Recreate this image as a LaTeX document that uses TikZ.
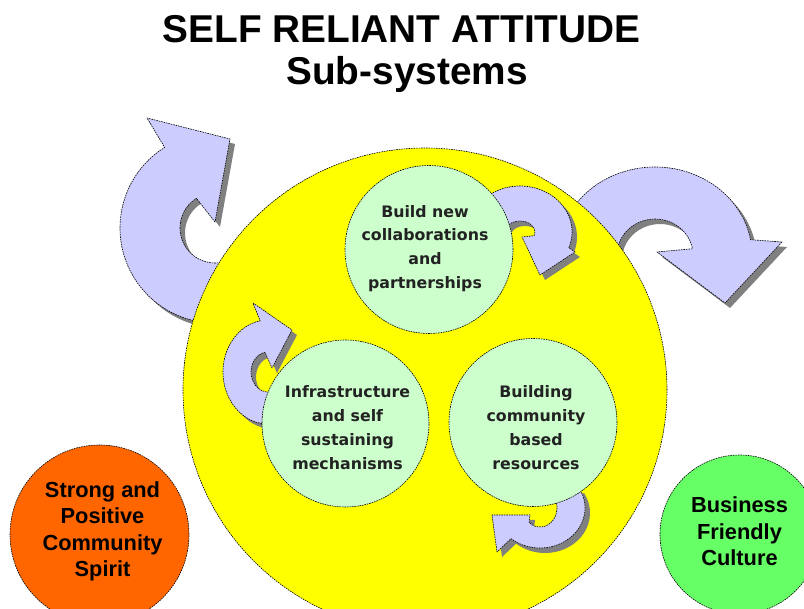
\documentclass[tikz,border=0pt]{standalone}
\usepackage{fontspec}
\newfontfamily\arialfont{Liberation Sans}
\newfontfamily\verdfont{DejaVu Sans}
\definecolor{yel}{HTML}{FFFF00}
\definecolor{mint}{HTML}{CCFFCC}
\definecolor{lav}{HTML}{CCCCFF}
\definecolor{shadec}{HTML}{808080}
\definecolor{orng}{HTML}{FF6600}
\definecolor{lgreen}{HTML}{66FF66}
\definecolor{txtdark}{HTML}{222222}
\tikzset{
  outl/.style={draw=black, line width=0.6pt, dash pattern=on 1.6pt off 0.9pt, line join=round},
  arrowbody/.style={outl, fill=lav},
  arrowshadow/.style={fill=shadec},
  bigdisc/.style={circle, outl, fill=yel, inner sep=0pt, minimum size=484pt},
  subdisc/.style={circle, outl, fill=mint, inner sep=0pt, minimum size=168pt},
  subtext/.style={align=center, text=txtdark, inner sep=0pt, font=\verdfont\bfseries\fontsize{15.8}{23.7}\selectfont},
  outtext/.style={align=center, text=black, inner sep=0pt, font=\arialfont\bfseries\fontsize{21.8}{26.5}\selectfont},
  titletext/.style={inner sep=0pt, anchor=base, font=\arialfont\bfseries\fontsize{38.8}{40}\selectfont}
}
% #1 centre, #2 inner radii, #3 outer radii, #4 start angle, #5 end angle,
% #6 outer wing, #7 inner wing, #8 tip (relative to centre)
\newcommand{\curvarrow}[8]{%
  \begin{scope}[shift={(#1)}]
    \fill[arrowshadow, shift={(5,5)}] (#4:#3) arc (#4:#5:#3) -- (#6) -- (#8) -- (#7) -- (#5:#2) arc (#5:#4:#2) -- cycle;
    \path[arrowbody] (#4:#3) arc (#4:#5:#3) -- (#6) -- (#8) -- (#7) -- (#5:#2) arc (#5:#4:#2) -- cycle;
  \end{scope}}
\begin{document}
\begin{tikzpicture}[x=1pt, y=1pt, yscale=-1]
\useasboundingbox (0,0) rectangle (804,609);
\clip (0,0) rectangle (804,609);
\fill[white] (0,0) rectangle (804,609);

% big arrows behind the yellow disc
\curvarrow{215,228}{35 and 35}{95 and 95}{70}{238}{-68,-110}{0,-6}{15,-89}
\curvarrow{655,255}{38 and 36}{97 and 88}{165}{350}{127,-13}{2,-3}{70,48}

\node[bigdisc] (big) at (425,390) {};

% small arrows
\curvarrow{520,232}{15 and 11}{52 and 46}{200}{380}{55,20}{2,5}{20,43}
\curvarrow{268,372}{17 and 20}{45 and 52}{60}{260}{-15,-69}{4,-4}{24,-42}
\curvarrow{540,508}{17 and 19}{45 and 40}{-30}{130}{-43,44}{-10,7}{-48,7}

% sub-system discs
\node[subdisc] (top) at (429,249.5) {};
\node[subdisc, minimum size=167pt] (left) at (345.5,423.5) {};
\node[subdisc] (right) at (533,422.5) {};
\node[subtext] (toptxt) at (425,248.2) {Build new\\collaborations\\and\\partnerships};
\node[subtext] (lefttxt) at (347.5,427.6) {Infrastructure\\and self\\sustaining\\mechanisms};
\node[subtext] (righttxt) at (536,427.6) {Building\\community\\based\\resources};

% outer discs
\node[circle, outl, fill=orng, inner sep=0pt, minimum size=179pt] (spirit) at (99.5,534.5) {};
\node[outtext] (spirittxt) at (102.5,531.6) {Strong and\\Positive\\Community\\Spirit};
\node[circle, outl, fill=lgreen, inner sep=0pt, minimum size=159pt] (business) at (739.5,534.5) {};
\node[outtext] (businesstxt) at (739.5,531.4) {Business\\Friendly\\Culture};

% title
\node[titletext] (title1) at (401.5,43) {SELF RELIANT ATTITUDE};
\node[titletext] (title2) at (407,85) {Sub-systems};
\end{tikzpicture}
\end{document}
